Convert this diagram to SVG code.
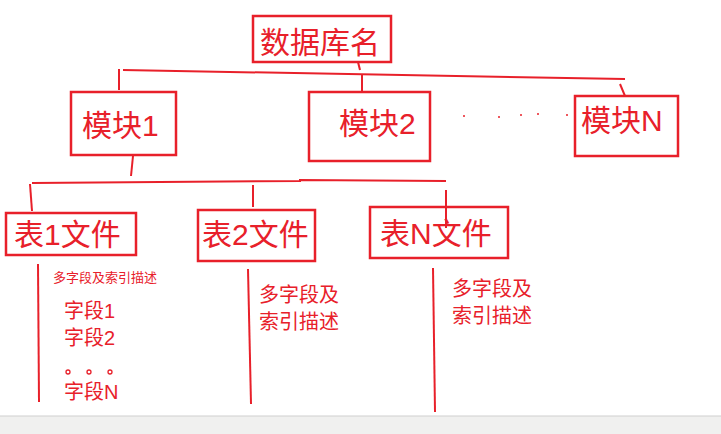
<svg xmlns="http://www.w3.org/2000/svg" width="721" height="434" viewBox="0 0 721 434">
<style>
.b{fill:none;stroke:#e8202a;stroke-width:2.5}
.l{stroke:#e8202a;stroke-width:2;fill:none}
text{fill:#e8202a;font-family:"Liberation Sans","Noto Sans CJK SC",sans-serif}
.big{font-size:30px}
.mid{font-size:20px}
</style>
<rect width="721" height="434" fill="#fff"/>
<rect x="0" y="416" width="721" height="18" fill="#f0f0ef"/>
<line x1="0" y1="416" x2="721" y2="416" stroke="#cfcfcf" stroke-width="1"/>
<g id="connectors">
<line class="l" x1="358" y1="62" x2="360" y2="70"/>
<line class="l" x1="123" y1="70" x2="625" y2="79"/>
<line class="l" x1="119" y1="69" x2="119" y2="90"/>
<line class="l" x1="362" y1="75" x2="362" y2="91"/>
<line class="l" x1="620" y1="84" x2="625" y2="96"/>
<line class="l" x1="133" y1="156" x2="131" y2="176"/>
<polyline class="l" points="32,183 300,181 300,180 446,181"/>
<line class="l" x1="30" y1="184" x2="32" y2="211"/>
<line class="l" x1="253" y1="185" x2="253" y2="207"/>
<line class="l" x1="446" y1="190" x2="446" y2="228"/>
<line class="l" x1="38" y1="264" x2="39" y2="402"/>
<line class="l" x1="248" y1="269" x2="251" y2="404"/>
<line class="l" x1="433" y1="268" x2="435" y2="412"/>
</g>
<g id="db"><rect class="b" x="253" y="16" width="138" height="46"/><text class="big" x="260" y="53">数据库名</text></g>
<g id="m1"><rect class="b" x="71" y="92" width="105" height="63"/><text class="big" x="82" y="136">模块1</text></g>
<g id="m2"><rect class="b" x="309" y="92" width="121" height="69"/><text class="big" x="339" y="134">模块2</text></g>
<g id="dots" fill="#e8202a"><circle cx="464" cy="116" r="1"/><circle cx="499" cy="117" r="1"/><circle cx="521" cy="115" r="1"/><circle cx="538" cy="114" r="1"/><circle cx="567" cy="115" r="1"/></g>
<g id="mN"><rect class="b" x="575" y="96" width="103" height="60"/><text class="big" x="581" y="131">模块N</text></g>
<g id="t1"><rect class="b" x="6" y="213" width="130" height="42"/><text class="big" x="14" y="245">表1文件</text></g>
<g id="t2"><rect class="b" x="198" y="210" width="117" height="51"/><text class="big" x="202" y="245">表2文件</text></g>
<g id="tN"><rect class="b" x="370" y="207" width="138" height="51"/><text class="big" x="380" y="244">表N文件</text></g>
<g id="d1">
<text x="53" y="282" font-size="13">多字段及索引描述</text>
<text class="mid" x="64" y="318" font-size="19">字段1</text>
<text class="mid" x="64" y="345">字段2</text>
<g fill="none" stroke="#e8202a" stroke-width="1.3"><circle cx="68" cy="372" r="2"/><circle cx="89" cy="372" r="2"/><circle cx="110" cy="372" r="2"/></g>
<text class="mid" x="64" y="399">字段N</text>
</g>
<g id="d2"><text class="mid" x="259" y="302">多字段及</text><text class="mid" x="259" y="329">索引描述</text></g>
<g id="d3"><text class="mid" x="452" y="296">多字段及</text><text class="mid" x="452" y="323">索引描述</text></g>
</svg>
